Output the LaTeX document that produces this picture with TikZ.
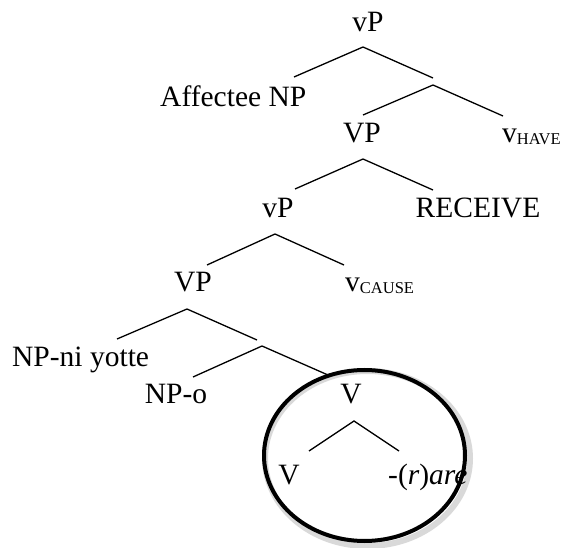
\documentclass[tikz,border=0pt]{standalone}
\usepackage{fontspec}
\setmainfont{Liberation Serif}
\usetikzlibrary{shapes.geometric}
% small subscript on the light verbs
\newcommand{\vsub}[1]{\raisebox{-2pt}{\fontsize{16.5}{18}\selectfont #1}}
\begin{document}
\begin{tikzpicture}[x=1pt, y=-1pt]
        % Define styles for the tree
        \tikzset{
            catnode/.style={font=\fontsize{29.5}{34}\selectfont, inner sep=0pt, anchor=base},
            leftnode/.style={catnode, anchor=base west},
            branch/.style={line width=1.3pt},
            ring/.style={draw, ellipse, line width=4pt, inner sep=0pt, minimum width=201pt, minimum height=171pt}
        }
        \useasboundingbox (0,0) rectangle (563,548);
        % Circle round the V head, with its shadow
        \draw[black!15, line width=6pt] (367.5,458.5) ellipse (102.5pt and 87.5pt);
        \node[ring] (circ) at (364.5,455.5) {};
        % Draw the labels
        \node[catnode] (vp1) at (368, 32) {vP};
        \node[leftnode] (aff) at (160, 107) {Affectee NP};
        \node[catnode] (VP1) at (362, 143) {VP};
        \node[leftnode] (vhave) at (502, 143) {v\vsub{HAVE}};
        \node[catnode] (vp2) at (278, 218) {vP};
        \node[catnode] (rec) at (478, 218) {RECEIVE};
        \node[catnode] (VP2) at (193, 292) {VP};
        \node[leftnode] (vcause) at (345, 292) {v\vsub{CAUSE}};
        \node[leftnode] (npni) at (12, 367) {NP-ni yotte};
        \node[catnode] (npo) at (176, 403) {NP-o};
        \node[catnode] (V1) at (351, 403) {V};
        \node[catnode] (V2) at (289, 484) {V};
        \node[leftnode] (rare) at (388, 484) {-(\textit{r})\textit{are}};
        % Branch points and branch ends
        \coordinate (a1) at (363, 47);  \coordinate (a1l) at (294, 77);  \coordinate (a1r) at (433, 78);
        \coordinate (a2) at (433, 85);  \coordinate (a2l) at (363, 115); \coordinate (a2r) at (503, 116);
        \coordinate (a3) at (363, 159); \coordinate (a3l) at (295, 189); \coordinate (a3r) at (433, 190);
        \coordinate (a4) at (275, 234); \coordinate (a4l) at (207, 265); \coordinate (a4r) at (344, 265);
        \coordinate (a5) at (187, 309); \coordinate (a5l) at (117, 339); \coordinate (a5r) at (257, 340);
        \coordinate (a6) at (262, 346); \coordinate (a6l) at (193, 377); \coordinate (a6r) at (328, 375);
        \coordinate (a7) at (354, 421); \coordinate (a7l) at (309, 451); \coordinate (a7r) at (399, 451);
        % Draw branches
        \foreach \n in {a1,a2,a3,a4,a5,a6,a7}
            \draw[branch] (\n l) -- (\n) -- (\n r);
    \end{tikzpicture}
\end{document}
